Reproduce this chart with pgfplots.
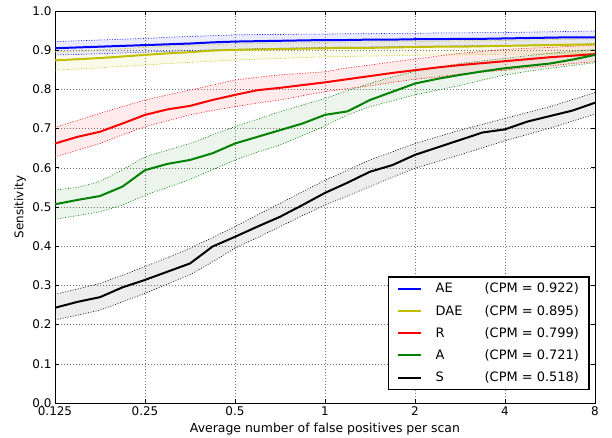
\documentclass[border=0pt]{standalone}
\usepackage{pgfplots}
\pgfplotsset{compat=1.18}
\usepackage{pgfplotstable}
\usepgfplotslibrary{fillbetween}
\usepackage{fontspec}
\setmainfont{DejaVu Sans}

\definecolor{mplyellow}{RGB}{191,191,0}
\definecolor{mplgreen}{RGB}{0,128,0}

% x = false positives per scan, mid = sensitivity, hi/lo = confidence band
\pgfplotstableread{
x       mid    hi     lo
0.125   0.905  0.922  0.888
0.1487  0.907  0.924  0.889
0.1768  0.909  0.926  0.891
0.2102  0.911  0.928  0.893
0.25    0.913  0.930  0.895
0.2973  0.915  0.933  0.897
0.3536  0.917  0.935  0.899
0.4204  0.920  0.937  0.901
0.5     0.922  0.939  0.902
0.5946  0.923  0.940  0.904
0.7071  0.924  0.940  0.905
0.8409  0.925  0.941  0.906
1       0.926  0.941  0.907
1.189   0.926  0.942  0.908
1.414   0.927  0.942  0.908
1.682   0.927  0.943  0.909
2       0.928  0.943  0.910
2.378   0.928  0.944  0.910
2.828   0.929  0.944  0.911
3.364   0.929  0.945  0.912
4       0.930  0.945  0.912
4.757   0.931  0.946  0.913
5.657   0.932  0.947  0.914
6.727   0.933  0.948  0.915
8       0.933  0.949  0.916
}\tabAE

\pgfplotstableread{
x       mid    hi     lo
0.125   0.874  0.896  0.849
0.1487  0.877  0.898  0.852
0.1768  0.880  0.901  0.855
0.2102  0.884  0.904  0.859
0.25    0.888  0.907  0.862
0.2973  0.892  0.910  0.866
0.3536  0.895  0.912  0.869
0.4204  0.899  0.914  0.872
0.5     0.901  0.916  0.875
0.5946  0.902  0.917  0.877
0.7071  0.903  0.918  0.879
0.8409  0.904  0.919  0.881
1       0.905  0.920  0.883
1.189   0.906  0.920  0.884
1.414   0.906  0.921  0.885
1.682   0.907  0.922  0.886
2       0.908  0.922  0.887
2.378   0.909  0.923  0.888
2.828   0.909  0.924  0.888
3.364   0.910  0.924  0.889
4       0.911  0.925  0.890
4.757   0.912  0.926  0.890
5.657   0.913  0.927  0.891
6.727   0.914  0.928  0.891
8       0.915  0.929  0.892
}\tabDAE

\pgfplotstableread{
x       mid    hi     lo
0.125   0.662  0.703  0.628
0.1487  0.679  0.721  0.645
0.1768  0.692  0.739  0.662
0.2102  0.713  0.756  0.684
0.25    0.735  0.773  0.705
0.2973  0.749  0.786  0.720
0.3536  0.758  0.798  0.735
0.4204  0.773  0.811  0.746
0.5     0.786  0.824  0.756
0.5946  0.798  0.831  0.765
0.7071  0.804  0.837  0.773
0.8409  0.811  0.841  0.784
1       0.818  0.845  0.794
1.189   0.826  0.855  0.802
1.414   0.834  0.862  0.809
1.682   0.842  0.870  0.818
2       0.849  0.877  0.826
2.378   0.856  0.885  0.832
2.828   0.862  0.892  0.839
3.364   0.867  0.897  0.844
4       0.872  0.902  0.849
4.757   0.877  0.905  0.855
5.657   0.882  0.907  0.860
6.727   0.886  0.910  0.866
8       0.890  0.913  0.871
}\tabR

\pgfplotstableread{
x       mid    hi     lo
0.125   0.507  0.543  0.469
0.1487  0.518  0.550  0.478
0.1768  0.528  0.565  0.488
0.2102  0.552  0.595  0.505
0.25    0.594  0.628  0.530
0.2973  0.610  0.645  0.550
0.3536  0.620  0.662  0.570
0.4204  0.637  0.684  0.595
0.5     0.662  0.705  0.620
0.5946  0.679  0.724  0.640
0.7071  0.696  0.743  0.658
0.8409  0.713  0.760  0.682
1       0.735  0.777  0.707
1.189   0.744  0.797  0.735
1.414   0.773  0.815  0.756
1.682   0.794  0.832  0.771
2       0.815  0.846  0.786
2.378   0.827  0.856  0.798
2.828   0.837  0.866  0.810
3.364   0.846  0.873  0.824
4       0.854  0.879  0.837
4.757   0.860  0.886  0.846
5.657   0.866  0.892  0.854
6.727   0.876  0.897  0.861
8       0.888  0.902  0.868
}\tabA

\pgfplotstableread{
x       mid    hi     lo
0.125   0.243  0.277  0.212
0.1487  0.258  0.291  0.224
0.1768  0.270  0.305  0.237
0.2102  0.295  0.326  0.258
0.25    0.314  0.348  0.280
0.2973  0.335  0.371  0.303
0.3536  0.356  0.395  0.327
0.4204  0.399  0.422  0.360
0.5     0.424  0.450  0.395
0.5946  0.450  0.480  0.422
0.7071  0.475  0.509  0.450
0.8409  0.505  0.539  0.478
1       0.536  0.568  0.505
1.189   0.562  0.594  0.528
1.414   0.590  0.620  0.552
1.682   0.607  0.641  0.576
2       0.633  0.662  0.599
2.378   0.652  0.679  0.616
2.828   0.671  0.696  0.633
3.364   0.690  0.711  0.651
4       0.698  0.726  0.669
4.757   0.718  0.741  0.685
5.657   0.732  0.756  0.701
6.727   0.746  0.774  0.719
8       0.766  0.792  0.737
}\tabS

\pgfplotsset{
  band/.style={forget plot, line width=0.6pt, dash pattern=on 1pt off 1.6pt},
  main/.style={line width=2bp},
}

\begin{document}
\begin{tikzpicture}
\begin{axis}[
  name=ax,
  scale only axis,
  width=540bp, height=392bp,
  xmode=log, log basis x=2,
  xmin=0.125, xmax=8, ymin=0, ymax=1,
  xtick={0.125,0.25,0.5,1,2,4,8},
  xticklabels={0.125,0.25,0.5,1,2,4,8},
  ytick={0,0.1,0.2,0.3,0.4,0.5,0.6,0.7,0.8,0.9,1.0},
  yticklabel style={/pgf/number format/.cd, fixed, fixed zerofill, precision=1, assume math mode=true},
  ticklabel style={font=\fontsize{12}{14}\selectfont},
  tick align=inside,
  major tick length=4bp,
  tick style={black, line width=0.6pt},
  axis line style={line width=0.9pt},
  grid=major,
  major grid style={black!55, line width=0.5pt, dash pattern=on 1pt off 2pt},
  xlabel={Average number of false positives per scan},
  xlabel style={at={(axis description cs:0.5,-0.074)}, anchor=base, font=\fontsize{12.5}{14}\selectfont},
  legend style={at={(0.99,0.033)}, anchor=south east, draw=black, line width=1.3pt,
    fill=white, font=\fontsize{13}{15}\selectfont, cells={anchor=west},
    inner xsep=8bp, inner ysep=4bp, row sep=7bp},
  legend image code/.code={\draw[#1] (0bp,0bp) -- (23bp,0bp);},
]
% confidence bands
\addplot[band, blue, name path=aeh] table[y=hi]{\tabAE};
\addplot[band, blue, name path=ael] table[y=lo]{\tabAE};
\addplot[blue, fill opacity=0.08, forget plot] fill between[of=aeh and ael];
\addplot[band, mplyellow, name path=daeh] table[y=hi]{\tabDAE};
\addplot[band, mplyellow, name path=dael] table[y=lo]{\tabDAE};
\addplot[mplyellow, fill opacity=0.08, forget plot] fill between[of=daeh and dael];
\addplot[band, red, name path=rh] table[y=hi]{\tabR};
\addplot[band, red, name path=rl] table[y=lo]{\tabR};
\addplot[red, fill opacity=0.08, forget plot] fill between[of=rh and rl];
\addplot[band, mplgreen, name path=ah] table[y=hi]{\tabA};
\addplot[band, mplgreen, name path=al] table[y=lo]{\tabA};
\addplot[mplgreen, fill opacity=0.08, forget plot] fill between[of=ah and al];
\addplot[band, black, name path=sh] table[y=hi]{\tabS};
\addplot[band, black, name path=sl] table[y=lo]{\tabS};
\addplot[black, fill opacity=0.07, forget plot] fill between[of=sh and sl];
% mean curves
\addplot[main, blue] table[y=mid]{\tabAE};
\addlegendentry{\hspace*{12bp}\makebox[49bp][l]{AE}(CPM = 0.922)}
\addplot[main, mplyellow] table[y=mid]{\tabDAE};
\addlegendentry{\hspace*{12bp}\makebox[49bp][l]{DAE}(CPM = 0.895)}
\addplot[main, red] table[y=mid]{\tabR};
\addlegendentry{\hspace*{12bp}\makebox[49bp][l]{R}(CPM = 0.799)}
\addplot[main, mplgreen] table[y=mid]{\tabA};
\addlegendentry{\hspace*{12bp}\makebox[49bp][l]{A}(CPM = 0.721)}
\addplot[main, black] table[y=mid]{\tabS};
\addlegendentry{\hspace*{12bp}\makebox[49bp][l]{S}(CPM = 0.518)}
\end{axis}
\node[rotate=90, font=\fontsize{12}{14}\selectfont] at ([xshift=-35bp]ax.west) {Sensitivity};
\pgfresetboundingbox
\path ([shift={(-55bp,-35bp)}]ax.south west) rectangle ([shift={(17bp,11bp)}]ax.north east);
\end{tikzpicture}
\end{document}
